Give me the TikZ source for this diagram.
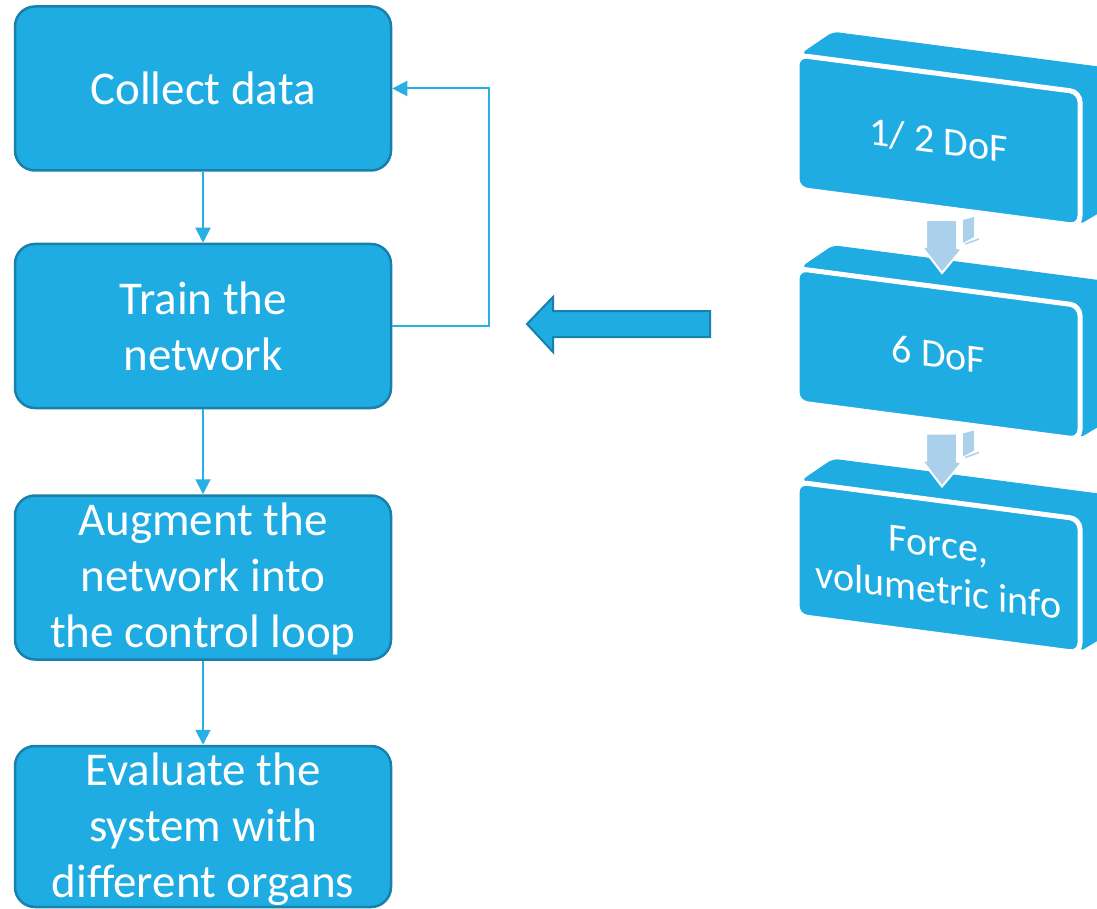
\documentclass[tikz,border=0pt]{standalone}
\usepackage{fontspec}
\setmainfont{Carlito}
\usetikzlibrary{arrows.meta}
\definecolor{boxblue}{RGB}{30,172,226}
\definecolor{boxedge}{RGB}{24,128,170}
\definecolor{linkblue}{RGB}{40,176,228}
\definecolor{lightarrow}{RGB}{170,208,236}
\begin{document}
\begin{tikzpicture}[x=1pt,y=-1pt,
  flowbox/.style={draw=boxedge, fill=boxblue, line width=2.5pt, rounded corners=20pt,
    minimum width=376pt, minimum height=164pt, inner sep=0pt, align=center,
    text=white, font=\fontsize{47}{56}\selectfont},
  flowtext/.style={inner sep=0pt, align=center, text=white, font=\fontsize{47}{56}\selectfont},
  link/.style={draw=linkblue, line width=2pt, -{Triangle[length=15pt,width=15pt]}},
  rface/.style={draw=white, line width=5pt, fill=boxblue, rounded corners=10pt,
    minimum width=283pt, minimum height=134pt, inner sep=0pt, align=center,
    text=white, font=\fontsize{40}{46}\selectfont, transform shape},
  rback/.style={fill=boxblue, rounded corners=6pt},
  larrow/.style={fill=lightarrow, draw=white, line width=2pt, line join=miter},
  bigarrow/.style={fill=boxblue, draw=boxedge, line width=2pt, line join=miter}]
\useasboundingbox (0,0) rectangle (1097,909);
\clip (0,0) rectangle (1097,909);

% left flow
\node[flowbox] (b1) at (203,88.5) {Collect data};
\node[flowbox] (b2) at (203,326) {Train the\\network};
\node[flowbox] (b3) at (203,577.5) {};
\node[flowtext] (b3t) at (203,579) {Augment the\\network into\\the control loop};
\node[flowbox, minimum height=161pt] (b4) at (203,826.5) {};
\node[flowtext] (b4t) at (203,829.5) {Evaluate the\\system with\\different organs};

\draw[link] (b1) -- (b2);
\draw[link] (b2) -- (b3);
\draw[link] (b3) -- (b4);
\draw[link] (b2.east) -- ++(97,0) |- (b1.east);

% big left arrow
\filldraw[bigarrow] (710,311) -- (553,311) -- (553,297) -- (527,324) -- (553,352) -- (553,337) -- (710,337) -- cycle;

% right 3D boxes
\begin{scope}[shift={(797,55)}, yslant=-0.131]
  \fill[rback] (4,-2) -- (36,-28) -- (319,-28) -- (319,106) -- (282,133) -- (282,-2) -- cycle;
  \node[rface] (r1) at (141.5,67) {1/ 2 DoF};
\end{scope}
\begin{scope}[shift={(797,268.5)}, yslant=-0.131]
  \fill[rback] (4,-2) -- (36,-28) -- (319,-28) -- (319,106) -- (282,133) -- (282,-2) -- cycle;
  \node[rface] (r2) at (141.5,67) {6 DoF};
\end{scope}
\begin{scope}[shift={(797,482)}, yslant=-0.131]
  \fill[rback] (4,-2) -- (36,-28) -- (319,-28) -- (319,106) -- (282,133) -- (282,-2) -- cycle;
  \node[rface] (r3) at (141.5,67) {Force,\\volumetric info};
\end{scope}

% light 3D arrows between right boxes
\foreach \dy in {0,213.5}{
  \begin{scope}[yshift=-\dy pt]
    \fill[lightarrow] (963,220) -- (974,217) -- (974,237) -- (963,243) -- cycle;
    \draw[lightarrow, line width=1.5pt] (965,244) -- (979,239);
    \filldraw[larrow] (926,220) -- (957,220) -- (957,248) -- (962,249) -- (942,273) -- (922,247) -- (926,247) -- cycle;
  \end{scope}
}
\end{tikzpicture}
\end{document}
